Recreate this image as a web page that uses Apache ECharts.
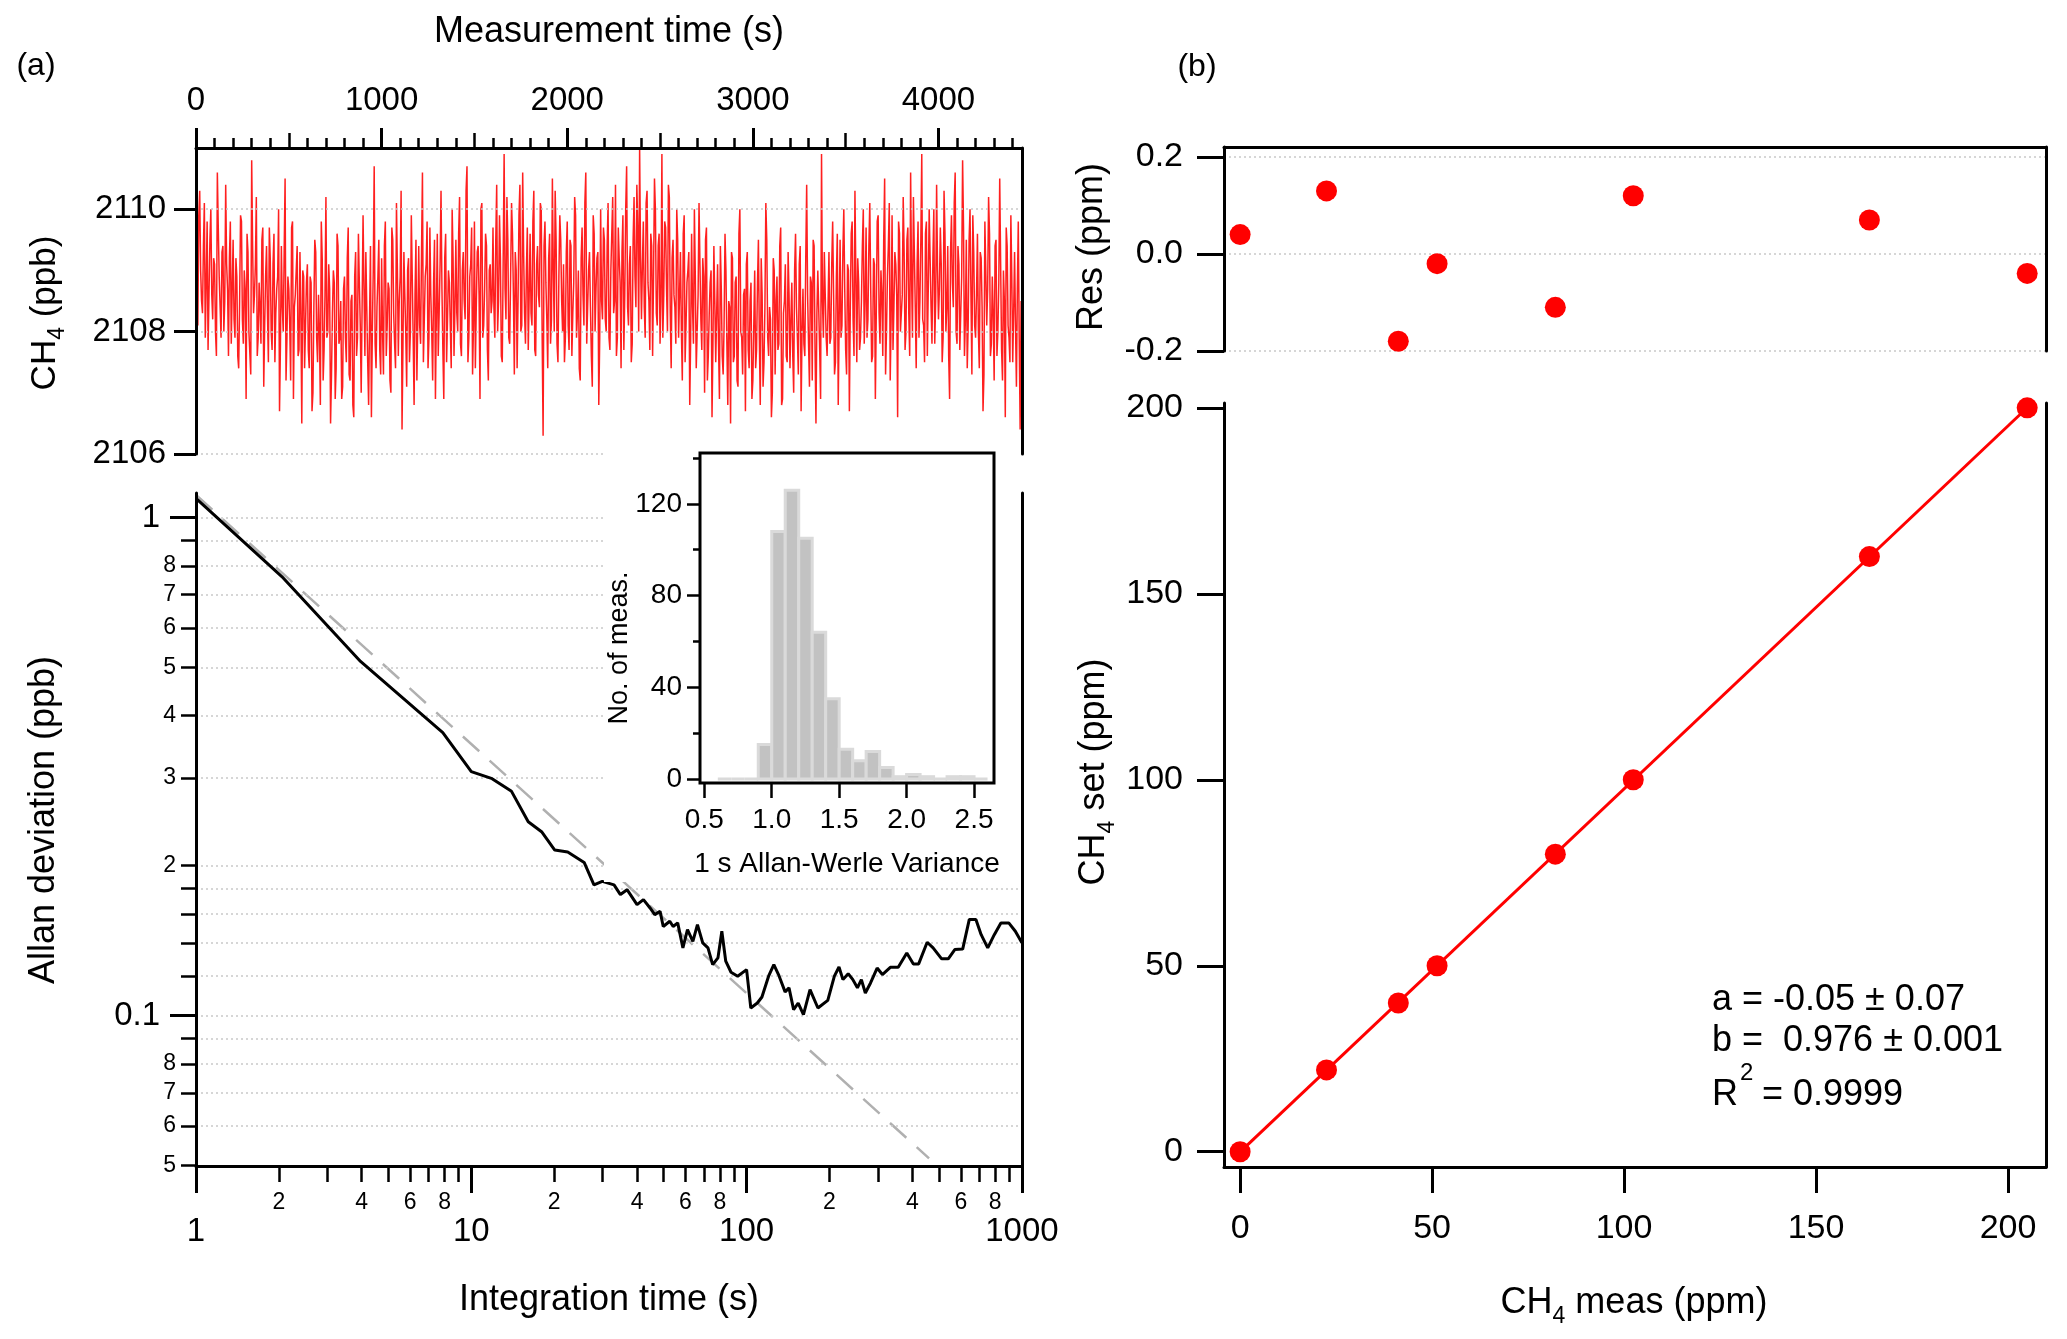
<!DOCTYPE html>
<html><head><meta charset="utf-8">
<script src="https://cdn.jsdelivr.net/npm/echarts@6/dist/echarts.min.js"></script>
<style>html,body{margin:0;padding:0;background:#fff}#c{width:2067px;height:1339px}</style>
</head><body><div id="c"></div>
<script>
const FONT = 'Liberation Sans';

// ---------- (a) top: CH4 time series, read every 5 s (two interleaved runs) ----------
const measInterval = 10; // s between values inside each run
const runOffset = 5;     // s, second run sits half-way between the first
const ch4 = [
2109.6,2108.1,2110.3,2108.5,2109.4,2107.9,2109.8,2108.6,2110.0,2108.2,2109.1,2107.6,2109.7,2108.4,2109.3,2108.0,2110.4,2108.7,2109.2,2107.8,
2109.5,2107.9,2108.9,2107.4,2109.9,2108.2,2109.0,2106.9,2109.3,2108.0,2110.8,2108.3,2109.1,2107.6,2108.8,2107.8,2109.7,2108.1,2109.4,2107.5,
2109.2,2107.7,2109.6,2108.3,2108.9,2106.7,2109.4,2108.0,2110.5,2107.9,2108.7,2107.2,2109.8,2108.4,2109.0,2107.6,2109.3,2106.5,2108.9,2108.1,
2109.1,2107.4,2108.8,2107.0,2109.5,2107.9,2108.6,2106.8,2109.2,2107.7,2110.2,2108.0,2108.7,2107.3,2109.0,2106.9,2109.6,2107.8,2108.5,2107.1,
2108.9,2107.5,2109.7,2107.2,2108.6,2106.6,2109.3,2107.9,2108.8,2107.0,2109.9,2107.6,2108.4,2106.8,2109.4,2108.0,2110.7,2107.4,2108.9,2107.7,
2109.2,2107.3,2109.8,2108.1,2108.7,2107.0,2109.5,2107.8,2110.1,2107.6,2108.9,2106.4,2109.3,2108.0,2109.0,2107.5,2109.9,2107.9,2108.6,2107.2,
2109.4,2107.8,2110.6,2108.2,2109.1,2107.4,2109.7,2108.0,2108.8,2106.9,2109.6,2108.3,2110.3,2107.7,2109.2,2107.5,2109.0,2108.1,2110.0,2107.6,
2109.5,2108.0,2110.2,2107.6,2109.3,2108.2,2110.7,2107.9,2109.1,2107.3,2109.8,2108.4,2109.4,2106.9,2110.1,2108.1,2109.6,2107.7,2109.0,2108.3,
2109.7,2107.9,2110.4,2108.5,2109.2,2107.5,2110.9,2108.2,2109.5,2107.8,2110.1,2108.6,2109.3,2107.4,2109.9,2108.0,2110.6,2108.3,2109.0,2107.7,
2109.6,2108.1,2110.3,2107.6,2109.4,2108.4,2110.0,2106.3,2109.8,2108.2,2109.2,2107.8,2110.5,2108.0,2109.5,2107.5,2109.9,2108.5,2109.1,2107.9,
2109.8,2107.7,2109.4,2108.3,2110.2,2107.9,2109.0,2107.2,2109.7,2108.1,2110.6,2108.4,2109.3,2107.6,2109.9,2108.0,2109.2,2106.8,2110.0,2108.2,
2109.5,2108.0,2110.1,2107.7,2109.6,2108.3,2110.4,2107.9,2109.2,2107.4,2109.9,2108.6,2110.7,2108.1,2109.4,2107.8,2110.2,2108.4,2109.7,2111.0,
2108.2,2109.8,2107.9,2110.3,2108.5,2109.6,2107.6,2110.5,2108.3,2109.4,2107.8,2110.9,2108.6,2109.7,2108.0,2110.2,2107.4,2109.5,2108.4,2110.0,
2107.9,2109.3,2107.2,2109.9,2108.1,2109.0,2106.8,2109.6,2107.8,2108.9,2107.4,2110.1,2108.2,2109.2,2107.0,2109.7,2107.6,2108.8,2106.6,2109.4,
2107.5,2109.1,2106.9,2108.7,2107.3,2109.6,2107.8,2108.5,2106.5,2109.2,2107.6,2108.9,2107.1,2110.0,2107.9,2108.6,2106.7,2109.3,2107.4,2108.8,
2107.2,2109.0,2107.7,2109.5,2106.8,2108.6,2107.5,2110.1,2107.9,2108.4,2106.6,2109.2,2107.3,2108.9,2107.8,2109.7,2106.9,2108.5,2107.6,2109.3,
2107.4,2108.8,2107.0,2109.6,2107.9,2109.1,2106.7,2108.7,2107.6,2110.4,2107.8,2108.9,2107.2,2109.4,2106.5,2109.0,2107.7,2110.9,2107.9,2108.6,
2107.6,2109.3,2107.9,2109.8,2107.3,2108.9,2106.8,2109.5,2108.1,2110.0,2107.7,2109.1,2106.7,2109.6,2108.2,2110.3,2107.5,2108.8,2107.9,2109.4,
2107.8,2109.7,2108.2,2110.1,2107.5,2109.2,2106.9,2109.8,2108.3,2109.0,2107.6,2110.5,2108.0,2109.4,2107.2,2109.9,2108.4,2109.1,2106.6,2109.6,
2108.0,2110.2,2107.7,2109.5,2108.3,2110.6,2107.9,2109.3,2107.4,2109.8,2108.5,2110.9,2108.1,2109.6,2107.6,2110.0,2108.4,2109.2,2107.8,2110.4,
2108.2,2109.7,2107.5,2110.3,2108.0,2109.4,2106.9,2109.9,2108.4,2110.6,2107.8,2109.1,2108.3,2110.8,2107.6,2109.5,2108.1,2110.0,2107.3,2109.3,
2107.9,2109.6,2107.4,2109.2,2106.7,2109.8,2108.1,2110.2,2107.6,2108.9,2107.2,2109.5,2108.0,2110.5,2107.7,2109.0,2106.6,2109.4,2107.9,2109.9,
2107.5,2109.3,2107.1,2109.8,2106.4
];
const ch4Mid = [
2108.4,2109.9,2109.0,2108.3,2110.1,2108.8,2107.7,2109.5,2108.6,2109.2,2108.0,2110.6,2108.9,2107.9,2109.4,2108.5,2109.1,2107.6,2109.8,2108.7,
2108.2,2109.2,2107.6,2108.5,2109.8,2107.8,2108.7,2109.6,2108.0,2107.3,2109.4,2108.6,2110.2,2107.9,2108.4,2109.5,2107.1,2108.9,2108.3,2109.7,
2108.0,2109.1,2107.5,2108.7,2110.0,2107.8,2108.4,2109.3,2107.2,2108.9,2108.1,2109.7,2106.9,2108.6,2109.4,2107.7,2108.3,2109.0,2107.4,2108.8,
2107.7,2108.9,2106.7,2108.4,2109.3,2107.5,2108.0,2109.8,2107.2,2108.6,2107.9,2109.1,2106.5,2108.3,2108.8,2107.4,2109.4,2107.9,2106.9,2108.7,
2107.9,2109.2,2107.3,2108.5,2106.8,2108.9,2107.6,2109.6,2108.1,2107.0,2108.7,2109.3,2107.5,2108.2,2106.6,2109.0,2107.8,2108.4,2109.5,2107.3,
2108.0,2109.4,2107.6,2108.8,2107.2,2109.7,2108.3,2107.4,2109.0,2108.5,2110.3,2107.8,2108.6,2107.1,2109.2,2108.0,2108.9,2106.8,2109.5,2108.2,
2108.1,2109.3,2107.5,2108.9,2109.8,2107.9,2108.6,2107.2,2109.5,2108.3,2107.6,2109.1,2108.7,2106.9,2109.6,2108.2,2108.8,2107.4,2109.2,2108.4,
2108.3,2109.6,2107.8,2109.0,2108.5,2110.3,2107.5,2108.9,2109.7,2108.1,2107.4,2109.3,2108.6,2110.0,2107.9,2108.7,2109.4,2107.2,2109.1,2108.5,
2108.4,2109.5,2108.0,2109.9,2107.6,2109.2,2108.7,2110.2,2107.9,2108.9,2109.6,2107.3,2109.0,2108.5,2110.4,2108.1,2109.3,2107.8,2109.7,2108.6,
2108.3,2109.8,2107.7,2109.1,2108.6,2110.1,2107.9,2109.4,2108.8,2107.4,2109.6,2108.2,2109.0,2110.3,2107.8,2108.9,2109.5,2108.0,2107.5,2109.3,
2108.1,2109.5,2107.6,2108.8,2109.9,2108.3,2107.4,2109.2,2108.6,2110.1,2107.8,2109.0,2108.4,2107.1,2109.6,2108.7,2109.3,2107.9,2108.5,2109.7,
2108.2,2109.4,2107.9,2109.0,2110.2,2108.5,2107.6,2109.7,2108.8,2109.3,2107.7,2110.0,2108.4,2109.1,2107.5,2109.5,2108.9,2110.4,2108.0,2109.2,
2109.1,2108.4,2110.1,2108.8,2107.7,2109.4,2108.9,2110.0,2108.1,2109.6,2108.5,2107.9,2109.8,2108.7,2110.4,2108.3,2109.2,2108.6,2107.8,2109.5,
2108.6,2108.0,2109.6,2107.5,2108.8,2109.3,2107.9,2108.4,2110.0,2107.4,2108.6,2109.1,2107.7,2108.9,2109.5,2107.2,2108.3,2109.0,2107.8,2108.5,
2108.3,2107.8,2109.4,2107.6,2108.1,2109.0,2106.8,2108.4,2109.3,2107.5,2108.8,2107.2,2109.6,2108.0,2107.3,2108.7,2109.1,2107.7,2108.5,2106.9,
2108.1,2107.4,2108.8,2107.9,2109.2,2107.1,2108.4,2109.5,2107.6,2108.2,2107.0,2109.0,2108.5,2107.7,2109.4,2106.8,2108.3,2109.1,2107.5,2108.6,
2108.2,2107.6,2109.0,2108.4,2107.3,2109.4,2108.0,2107.8,2109.2,2108.6,2107.1,2108.8,2109.5,2107.7,2108.3,2109.0,2106.9,2108.5,2109.3,2107.9,
2108.4,2107.8,2109.1,2108.6,2107.5,2109.6,2108.2,2107.9,2109.3,2108.7,2107.3,2109.0,2108.4,2109.8,2107.6,2108.9,2109.2,2107.7,2108.5,2110.0,
2108.5,2107.9,2109.4,2108.7,2107.6,2109.1,2108.3,2109.9,2107.8,2108.6,2109.5,2107.3,2108.9,2110.1,2108.2,2107.7,2109.3,2108.6,2109.8,2108.0,
2108.6,2109.3,2108.0,2109.7,2107.6,2108.9,2110.2,2108.4,2109.1,2107.9,2109.5,2108.2,2107.5,2109.8,2108.7,2109.2,2107.8,2110.0,2108.5,2109.0,
2108.7,2109.1,2107.9,2109.6,2108.4,2107.6,2109.3,2108.8,2110.1,2108.0,2109.4,2107.7,2108.9,2109.7,2108.2,2107.4,2109.5,2108.6,2109.9,2108.1,
2108.6,2108.0,2109.3,2108.4,2107.3,2109.0,2108.7,2109.6,2107.8,2108.3,2109.4,2107.6,2108.8,2109.1,2107.2,2108.5,2109.7,2108.1,2107.5,2108.9,
2108.3,2108.1,2108.7,2107.9,2108.5
];
const timeTicks = [0, 1000, 2000, 3000, 4000];
const ch4Ticks = [2106, 2108, 2110];

// ---------- (a) bottom: Allan deviation ----------
const allanTau = [1,2.05,3.96,7.88,10,11.9,14.0,16.1,18.0,20.1,22.4,25.7,27.9,29.9,33.0,34.8,36.8,40.0,42.2,44.6,46.4,48.5,49.8,52.6,54.1,56.2,58.7,61.0,63.8,66.3,69.3,72.4,75.3,78.7,81.3,84.0,87.8,92.8,100,103.6,109.4,113.7,120.2,125.6,130.6,138.0,142.6,148.2,154.0,160.9,170.0,181.6,197.2,208.4,216.6,223.9,233.9,243.2,252.7,261.2,270.0,282.0,298.0,311.4,332.7,355.5,381.9,403.5,421.8,452.9,475.9,511.2,540.2,570.5,609.5,644.2,680.8,711.4,751.6,794.0,839.0,896.0,946.7,1000];
const allanDev = [1.093,0.761,0.514,0.370,0.309,0.299,0.282,0.245,0.234,0.215,0.213,0.203,0.183,0.186,0.183,0.175,0.179,0.167,0.171,0.1645,0.1595,0.162,0.151,0.1547,0.151,0.1535,0.1368,0.1488,0.141,0.1523,0.140,0.1368,0.1266,0.1306,0.1477,0.1286,0.1222,0.120,0.1237,0.1036,0.106,0.109,0.120,0.1266,0.1209,0.1116,0.1137,0.1028,0.106,0.1005,0.1128,0.1036,0.1073,0.120,0.1252,0.1181,0.1214,0.1181,0.1137,0.1181,0.111,0.1163,0.1246,0.1209,0.125,0.125,0.1336,0.127,0.127,0.1404,0.1368,0.130,0.130,0.1357,0.136,0.156,0.156,0.1454,0.1368,0.1454,0.1535,0.1535,0.1477,0.140];
const whiteNoiseTau = [1, 460];
const whiteNoiseDev = [1.11, 0.0517];
const tauMajorTicks = [1, 10, 100, 1000];
const tauMinorTicks = [2,3,4,5,6,7,8,9,20,30,40,50,60,70,80,90,200,300,400,500,600,700,800,900];
const tauMinorLabels = [2,4,6,8,20,40,60,80,200,400,600,800];
const devMajorTicks = [0.1, 1];
const devMinorTicks = [0.05,0.06,0.07,0.08,0.09,0.12,0.14,0.16,0.18,0.2,0.3,0.4,0.5,0.6,0.7,0.8,0.9];
const devMinorLabels = [0.05,0.06,0.07,0.08,0.2,0.3,0.4,0.5,0.6,0.7,0.8];

// ---------- (a) inset: histogram ----------
const histBinLow = [0.6,0.7,0.8,0.9,1.0,1.1,1.2,1.3,1.4,1.5,1.6,1.7,1.8,1.9,2.0,2.1,2.2,2.3,2.4,2.5];
const histBinWidth = 0.1;
const histCounts = [0,0,0,15,108,126,105,64,35,13,8,12,5,1,2,1,0,1,1,0];
const histXTicks = [0.5, 1.0, 1.5, 2.0, 2.5];
const histYMajor = [0, 40, 80, 120];
const histYMinor = [20, 60, 100, 140];

// ---------- (b) calibration ----------
const calMeas = [0.0, 22.5, 41.2, 51.3, 82.1, 102.4, 163.9, 205.0];
const calSet  = [0, 22, 40, 50, 80, 100, 160, 200];
const calRes  = [0.04, 0.13, -0.18, -0.02, -0.11, 0.12, 0.07, -0.04];
const fitMeas = [0, 205.0];
const fitSet  = [-0.05, 200.03];
const measTicks = [0, 50, 100, 150, 200];
const setTicks = [0, 50, 100, 150, 200];
const resTicks = [-0.2, 0.0, 0.2];

// ---------- helpers ----------
const BLACK = '#000';
const DOT = {show: true, lineStyle: {color: '#c9c9c9', width: 1.5, type: [2, 3]}};
function ax(o) {
  const base = {
    type: 'value', z: 3,
    axisLine: {show: false, onZero: false, lineStyle: {color: BLACK, width: 3}},
    axisTick: {show: false, inside: false, lineStyle: {color: BLACK, width: 3}},
    axisLabel: {show: false, color: BLACK, fontFamily: FONT, fontSize: 33, formatter: v => String(v)},
    splitLine: {show: false},
    minorTick: {show: false}, minorSplitLine: {show: false}
  };
  for (const k in o) {
    if (base[k] && typeof base[k] === 'object' && !Array.isArray(base[k]) && o[k] && typeof o[k] === 'object' && !Array.isArray(o[k]))
      base[k] = Object.assign({}, base[k], o[k]);
    else base[k] = o[k];
  }
  return base;
}
const leadDigit = v => String(Math.round(v / Math.pow(10, Math.floor(Math.log10(v) + 1e-9))));

const topMid = [500, 1500, 2500, 3500];
const topMinor = [];
for (let t = 100; t < 4450; t += 100) if (t % 500 !== 0) topMinor.push(t);

const grids = [
  {left: 196, top: 148, width: 826, height: 306},
  {left: 196, top: 493, width: 826, height: 673},
  {left: 700, top: 453, width: 294, height: 330, show: true, borderColor: BLACK, borderWidth: 3, backgroundColor: '#fff', z: 10},
  {left: 1224, top: 147, width: 822, height: 204},
  {left: 1224, top: 403, width: 822, height: 764}
];

const xAxes = [
  ax({gridIndex: 0, position: 'top', min: 0, max: 4450,
      axisLine: {show: true}, axisTick: {show: true, length: 20, customValues: timeTicks},
      axisLabel: {show: true, margin: 31, customValues: timeTicks}}),
  ax({gridIndex: 0, position: 'top', min: 0, max: 4450,
      axisTick: {show: true, length: 15, customValues: topMid, lineStyle: {color: BLACK, width: 2.5}}}),
  ax({gridIndex: 0, position: 'top', min: 0, max: 4450,
      axisTick: {show: true, length: 10, customValues: topMinor, lineStyle: {color: BLACK, width: 2.5}}}),
  ax({gridIndex: 1, type: 'log', logBase: 10, position: 'bottom', min: 1, max: 1001,
      axisLine: {show: true}, axisTick: {show: true, length: 27, customValues: tauMajorTicks},
      axisLabel: {show: true, margin: 49, customValues: tauMajorTicks, formatter: v => String(Math.round(v))}}),
  ax({gridIndex: 1, type: 'log', logBase: 10, position: 'bottom', min: 1, max: 1001,
      axisTick: {show: true, length: 16, customValues: tauMinorTicks, lineStyle: {color: BLACK, width: 2.5}},
      axisLabel: {show: true, margin: 25, fontSize: 23, customValues: tauMinorLabels, formatter: leadDigit}}),
  ax({gridIndex: 2, position: 'bottom', min: 0.468, max: 2.648, z: 11,
      axisTick: {show: true, length: 15, customValues: histXTicks, lineStyle: {color: BLACK, width: 2.5}},
      axisLabel: {show: true, margin: 23, fontSize: 28, customValues: histXTicks, formatter: v => v.toFixed(1)}}),
  ax({gridIndex: 3, position: 'top', min: -4.2, max: 209.9, axisLine: {show: true}}),
  ax({gridIndex: 4, position: 'bottom', min: -4.2, max: 209.9,
      axisLine: {show: true}, axisTick: {show: true, length: 26, customValues: measTicks},
      axisLabel: {show: true, margin: 45, fontSize: 34, customValues: measTicks}})
];

const yAxes = [
  ax({gridIndex: 0, position: 'left', min: 2106, max: 2111,
      axisLine: {show: true}, axisTick: {show: true, length: 22, customValues: ch4Ticks},
      axisLabel: {show: true, margin: 30, customValues: ch4Ticks}, splitLine: DOT}),
  ax({gridIndex: 0, position: 'right', min: 0, max: 1, axisLine: {show: true}}),
  ax({gridIndex: 1, type: 'log', logBase: 10, position: 'left', min: 0.0499, max: 1.12,
      axisLine: {show: true}, axisTick: {show: true, length: 26, customValues: devMajorTicks},
      axisLabel: {show: true, margin: 36, customValues: devMajorTicks, formatter: v => (v > 0.5 ? '1' : '0.1')},
      splitLine: DOT}),
  ax({gridIndex: 1, type: 'log', logBase: 10, position: 'left', min: 0.0499, max: 1.12,
      axisTick: {show: true, length: 15, customValues: devMinorTicks, lineStyle: {color: BLACK, width: 2.5}},
      axisLabel: {show: true, margin: 20, fontSize: 23, customValues: devMinorLabels, formatter: leadDigit},
      splitLine: DOT}),
  ax({gridIndex: 1, position: 'right', min: 0, max: 1, axisLine: {show: true}}),
  ax({gridIndex: 2, position: 'left', min: -1.75, max: 142.2, z: 11,
      axisTick: {show: true, length: 13, customValues: histYMajor, lineStyle: {color: BLACK, width: 2.5}},
      axisLabel: {show: true, margin: 18, fontSize: 28, customValues: histYMajor}}),
  ax({gridIndex: 2, position: 'left', min: -1.75, max: 142.2, z: 11,
      axisTick: {show: true, length: 7, customValues: histYMinor, lineStyle: {color: BLACK, width: 2.5}}}),
  ax({gridIndex: 3, position: 'left', min: -0.2, max: 0.2206,
      axisLine: {show: true}, axisTick: {show: true, length: 27, customValues: resTicks},
      axisLabel: {show: true, margin: 41, fontSize: 34, customValues: resTicks, formatter: v => v.toFixed(1)},
      splitLine: DOT}),
  ax({gridIndex: 3, position: 'right', min: 0, max: 1, axisLine: {show: true}}),
  ax({gridIndex: 4, position: 'left', min: -4.1, max: 201.3,
      axisLine: {show: true}, axisTick: {show: true, length: 27, customValues: setTicks},
      axisLabel: {show: true, margin: 41, fontSize: 34, customValues: setTicks}}),
  ax({gridIndex: 4, position: 'right', min: 0, max: 1, axisLine: {show: true}})
];

const ch4Data = [];
ch4.forEach((v, i) => {
  ch4Data.push([i * measInterval, v]);
  if (i < ch4Mid.length) ch4Data.push([i * measInterval + runOffset, ch4Mid[i]]);
});

const series = [
  {type: 'line', xAxisIndex: 0, yAxisIndex: 0, showSymbol: false, symbol: 'none', z: 2,
   data: ch4Data, lineStyle: {color: '#ff0000', opacity: 0.88, width: 1.5}},
  {type: 'line', xAxisIndex: 3, yAxisIndex: 2, showSymbol: false, symbol: 'none', z: 2,
   data: whiteNoiseTau.map((t, i) => [t, whiteNoiseDev[i]]),
   lineStyle: {color: '#b0b0b0', width: 2.5, type: [22, 14]}},
  {type: 'line', xAxisIndex: 3, yAxisIndex: 2, showSymbol: false, symbol: 'none', z: 3,
   data: allanTau.map((t, i) => [t, allanDev[i]]),
   lineStyle: {color: BLACK, width: 3}},
  {type: 'custom', xAxisIndex: 5, yAxisIndex: 5, z: 12,
   data: histBinLow.map((lo, i) => [lo, lo + histBinWidth, histCounts[i]]),
   encode: {x: [0, 1], y: 2},
   renderItem: (params, api) => {
     const p0 = api.coord([api.value(0), 0]);
     const p1 = api.coord([api.value(1), api.value(2)]);
     return {type: 'rect', shape: {x: p0[0], y: p1[1], width: p1[0] - p0[0], height: p0[1] - p1[1]},
             style: {fill: '#c2c2c2', stroke: '#dadada', lineWidth: 3}};
   }},
  {type: 'scatter', xAxisIndex: 6, yAxisIndex: 7, symbol: 'circle', symbolSize: 21, z: 4,
   data: calMeas.map((m, i) => [m, calRes[i]]), itemStyle: {color: '#ff0000', opacity: 1}},
  {type: 'line', xAxisIndex: 7, yAxisIndex: 9, showSymbol: false, symbol: 'none', z: 3,
   data: fitMeas.map((m, i) => [m, fitSet[i]]), lineStyle: {color: '#ff0000', width: 3}},
  {type: 'scatter', xAxisIndex: 7, yAxisIndex: 9, symbol: 'circle', symbolSize: 21, z: 4,
   data: calMeas.map((m, i) => [m, calSet[i]]), itemStyle: {color: '#ff0000', opacity: 1}}
];

function txt(x, y, text, size, extra) {
  const st = {text: text, fontFamily: FONT, fontSize: size, fill: BLACK,
              align: 'center', verticalAlign: 'middle', textAlign: 'center', textVerticalAlign: 'middle'};
  const el = {type: 'text', x: x, y: y, z: 100, style: st};
  if (extra) {
    if (extra.style) Object.assign(st, extra.style);
    if (extra.rotation !== undefined) el.rotation = extra.rotation;
  }
  return el;
}
const ROT = Math.PI / 2;
const subRich = (size) => ({
  m: {fontFamily: FONT, fontSize: size, lineHeight: size + 14, verticalAlign: 'middle', fill: BLACK},
  s: {fontFamily: FONT, fontSize: Math.round(size * 0.65), lineHeight: 12, verticalAlign: 'bottom', fill: BLACK}
});
const LEFT = {style: {align: 'left', textAlign: 'left'}};

const graphics = [
  {type: 'rect', z: 5, shape: {x: 604, y: 445, width: 414, height: 437}, style: {fill: '#fff'}},
  txt(36, 66, '(a)', 32),
  txt(1197, 67, '(b)', 32),
  txt(609, 32, 'Measurement time (s)', 36),
  txt(609, 1300, 'Integration time (s)', 36),
  txt(45, 313, '{m|CH}{s|4}{m| (ppb)}', 35, {rotation: ROT, style: {rich: subRich(35)}}),
  txt(44, 820, 'Allan deviation (ppb)', 36, {rotation: ROT}),
  txt(620, 648, 'No. of meas.', 27, {rotation: ROT}),
  txt(847, 864, '1 s Allan-Werle Variance', 28),
  txt(1092, 247, 'Res (ppm)', 36, {rotation: ROT}),
  txt(1094, 772, '{m|CH}{s|4}{m| set (ppm)}', 36, {rotation: ROT, style: {rich: subRich(36)}}),
  txt(1634, 1303, '{m|CH}{s|4}{m| meas (ppm)}', 36, {style: {rich: subRich(36)}}),
  txt(1712, 1000, 'a = -0.05 \u00b1 0.07', 36, LEFT),
  txt(1712, 1041, 'b =  0.976 \u00b1 0.001', 36, LEFT),
  txt(1712, 1095, 'R', 36, LEFT),
  txt(1740, 1073, '2', 24, LEFT),
  txt(1762, 1095, '= 0.9999', 36, LEFT)
];

const chart = echarts.init(document.getElementById('c'), null, {renderer: 'canvas', width: 2067, height: 1339});
chart.setOption({
  animation: false,
  backgroundColor: '#fff',
  textStyle: {fontFamily: FONT},
  grid: grids,
  xAxis: xAxes,
  yAxis: yAxes,
  series: series,
  graphic: {elements: graphics}
});
</script></body></html>
